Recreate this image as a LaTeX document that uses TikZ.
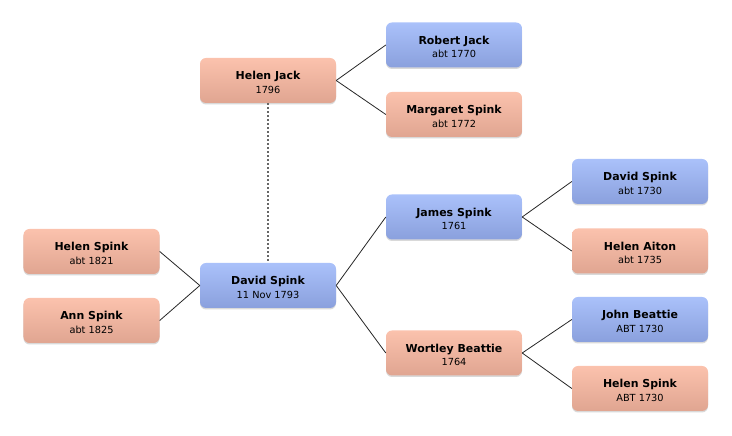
\documentclass[tikz,border=0pt]{standalone}
\usepackage{fontspec}
\setmainfont{DejaVu Sans}
\usetikzlibrary{shadows}
\definecolor{bluetop}{HTML}{AAC1FA}
\definecolor{bluebot}{HTML}{8AA0DD}
\definecolor{redtop}{HTML}{FBC2AD}
\definecolor{redbot}{HTML}{E0A591}
\tikzset{
  person/.style={rounded corners=6bp, minimum width=136bp, minimum height=45bp,
    inner sep=0pt, align=center, text=black, text depth=0pt,
    drop shadow={shadow xshift=0bp, shadow yshift=-1.5bp, opacity=0.25, fill=black!60},
    font=\fontsize{9.8}{13.5}\selectfont},
  male/.style={person, top color=bluetop, bottom color=bluebot},
  female/.style={person, top color=redtop, bottom color=redbot},
  link/.style={draw=black!85, line width=0.8bp},
  spouse/.style={draw=black!60, line width=1.4bp, dash pattern=on 2bp off 2bp}
}
\newcommand{\nm}[1]{\rule{0pt}{12bp}{\fontsize{11}{13.5}\selectfont\bfseries #1}}
\begin{document}
\begin{tikzpicture}[x=1bp,y=1bp]
\useasboundingbox (0,0) rectangle (732,436);
\node[female] (hj) at (268,355.5) {\nm{Helen Jack}\\1796};
\node[male] (rj) at (454,391) {\nm{Robert Jack}\\abt 1770};
\node[female] (ms) at (454,321.5) {\nm{Margaret Spink}\\abt 1772};
\node[male] (ds) at (268,150.5) {\nm{David Spink}\\11 Nov 1793};
\node[female] (hs) at (91.5,184.5) {\nm{Helen Spink}\\abt 1821};
\node[female] (as) at (91.5,115.5) {\nm{Ann Spink}\\abt 1825};
\node[male] (js) at (454,219) {\nm{James Spink}\\1761};
\node[female] (wb) at (454,83) {\nm{Wortley Beattie}\\1764};
\node[male] (ds2) at (640,254.5) {\nm{David Spink}\\abt 1730};
\node[female] (ha) at (640,185) {\nm{Helen Aiton}\\abt 1735};
\node[male] (jb) at (640,116.5) {\nm{John Beattie}\\ABT 1730};
\node[female] (hs2) at (640,47.5) {\nm{Helen Spink}\\ABT 1730};
\draw[link] (hj.east) -- (rj.west);
\draw[link] (hj.east) -- (ms.west);
\draw[link] (hs.east) -- (ds.west);
\draw[link] (as.east) -- (ds.west);
\draw[link] (ds.east) -- (js.west);
\draw[link] (ds.east) -- (wb.west);
\draw[link] (js.east) -- (ds2.west);
\draw[link] (js.east) -- (ha.west);
\draw[link] (wb.east) -- (jb.west);
\draw[link] (wb.east) -- (hs2.west);
\draw[spouse] (hj.south) -- (ds.north);
\end{tikzpicture}
\end{document}
